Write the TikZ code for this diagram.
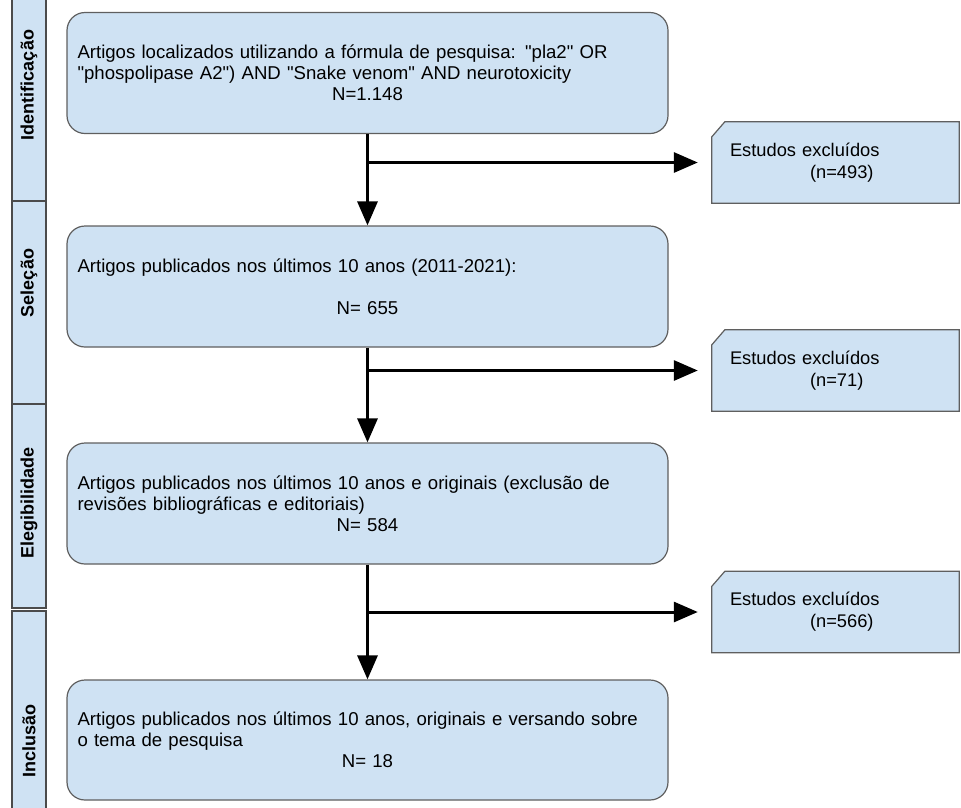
\documentclass[tikz,border=0pt]{standalone}
\usepackage{fontspec}
\setmainfont{Liberation Sans}[Ligatures=TeXOff]
\usepackage{tikz}
\usetikzlibrary{arrows.meta,calc,backgrounds}
\definecolor{boxblue}{RGB}{207,226,243}
\definecolor{boxline}{RGB}{95,95,95}
\definecolor{tabline}{RGB}{75,75,75}
\tikzstyle{stagebox}=[draw=boxline, fill=boxblue, line width=1.2pt, rounded corners=18pt, minimum width=601pt, minimum height=121pt, text width=580pt, align=left, inner sep=0pt, font=\fontsize{18.6}{21}\selectfont]
\tikzstyle{excltext}=[minimum width=247pt, minimum height=81pt, text width=211pt, align=left, inner sep=0pt, font=\fontsize{18.3}{22}\selectfont]
\tikzstyle{exclframe}=[draw=boxline, fill=boxblue, line width=1.2pt]
\tikzstyle{phasetab}=[draw=tabline, fill=boxblue, line width=1.2pt]
\tikzstyle{phase}=[rotate=90, font=\fontsize{18}{20}\selectfont\bfseries]
\tikzstyle{flow}=[line width=3pt, -{Triangle[length=24pt,width=20pt]}]
\newcommand{\snipframe}[1]{%
  \begin{pgfonlayer}{background}
    \filldraw[exclframe] (#1.south west) -- ($(#1.north west)+(0,15)$) -- ($(#1.north west)+(13,0)$) -- (#1.north east) -- (#1.south east) -- cycle;
  \end{pgfonlayer}}
\newcommand{\nline}[1]{\makebox[\hsize]{#1}}

\begin{document}
\begin{tikzpicture}[x=1pt,y=-1pt]
	\useasboundingbox (0,0) rectangle (961,807);

	\draw[phasetab] (12,-5) rectangle (46,201);
	\draw[phasetab] (12,201) rectangle (46,404);
	\draw[phasetab] (12,404) rectangle (46,608);
	\draw[phasetab] (12,611) rectangle (46,815);
	\node[phase] (pid) at (29,85) {Identificação};
	\node[phase] (psel) at (29,283) {Seleção};
	\node[phase] (pele) at (29,503) {Elegibilidade};
	\node[phase] (pinc) at (29,741) {Inclusão};

	\node[stagebox] (b1) at (367.5,73) {Artigos localizados utilizando a fórmula de pesquisa: "pla2" OR\\ "phospolipase A2") AND "Snake venom" AND neurotoxicity\\ \nline{N=1.148}};
	\node[stagebox] (b2) at (367.5,286.5) {Artigos publicados nos últimos 10 anos (2011-2021):\\ \mbox{}\\ \nline{N= 655}};
	\node[stagebox] (b3) at (367.5,503.5) {Artigos publicados nos últimos 10 anos e originais (exclusão de\\ revisões bibliográficas e editoriais)\\ \nline{N= 584}};
	\node[stagebox, minimum height=120pt] (b4) at (367.5,740) {Artigos publicados nos últimos 10 anos, originais e versando sobre\\ o tema de pesquisa\\ \nline{N= 18}};

	\node[excltext] (x1) at (835.5,162.5) {Estudos excluídos\\ \hspace*{80pt}(n=493)};
	\node[excltext] (x2) at (835.5,370.5) {Estudos excluídos\\ \hspace*{80pt}(n=71)};
	\node[excltext] (x3) at (835.5,612) {Estudos excluídos\\ \hspace*{80pt}(n=566)};
	\snipframe{x1}
	\snipframe{x2}
	\snipframe{x3}

	\draw[flow] (b1.south) -- (b2.north);
	\draw[flow] (b2.south) -- (b3.north);
	\draw[flow] (b3.south) -- (b4.north);
	\draw[flow, shorten >=14pt] (b1.south |- x1.west) -- (x1.west);
	\draw[flow, shorten >=14pt] (b2.south |- x2.west) -- (x2.west);
	\draw[flow, shorten >=14pt] (b3.south |- x3.west) -- (x3.west);
\end{tikzpicture}
\end{document}
